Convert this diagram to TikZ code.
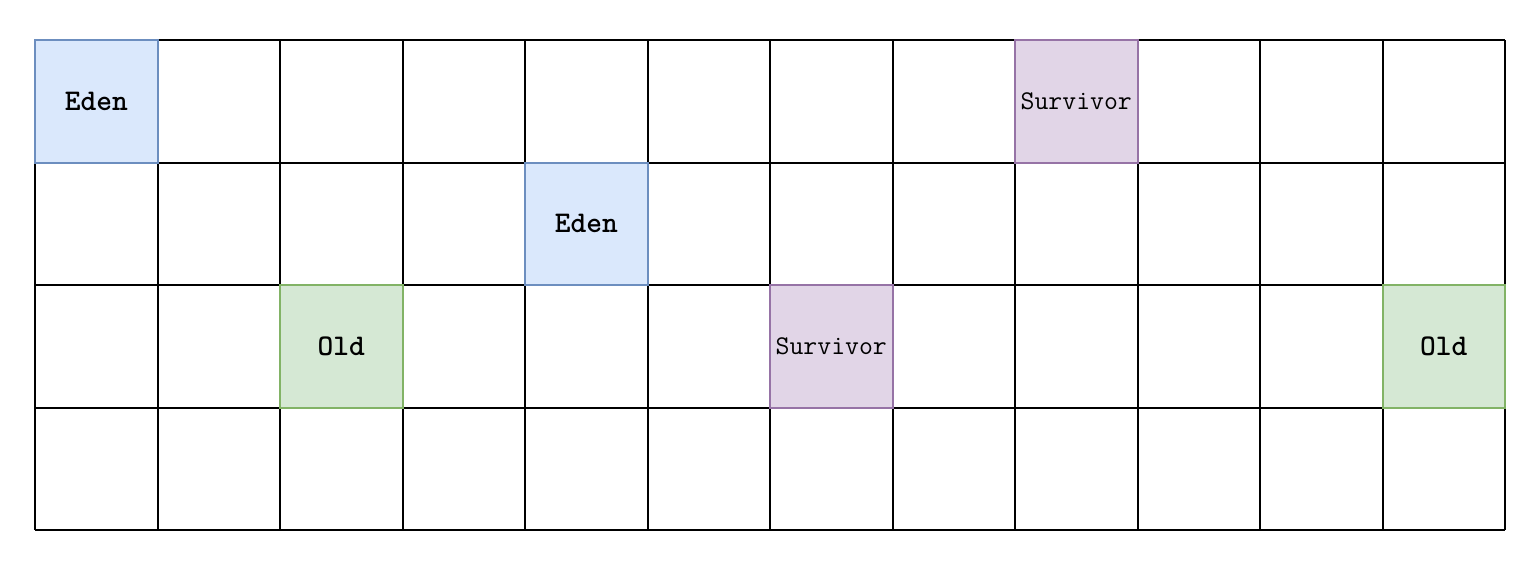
\documentclass[tikz,border=0pt]{standalone}
\definecolor{edenfill}{HTML}{DAE8FC}
\definecolor{edenline}{HTML}{6C8EBF}
\definecolor{survfill}{HTML}{E1D5E7}
\definecolor{survline}{HTML}{9673A6}
\definecolor{oldfill}{HTML}{D5E8D4}
\definecolor{oldline}{HTML}{82B366}
\begin{document}
\begin{tikzpicture}[x=61.25pt, y=-61.25pt,
    region/.style={draw, line width=1pt, minimum width=61.25pt, minimum height=61.25pt, inner sep=0pt,
      font=\ttfamily\bfseries\fontsize{15}{17}\selectfont},
    survregion/.style={region, fill=survfill, draw=survline,
      font=\ttfamily\fontsize{13.5}{15}\selectfont}]
        \useasboundingbox (-0.2857,-0.3265) rectangle (12.2857,4.2776);
        % Heap grid
        \foreach \i in {0,...,12} {
          \draw[line width=1pt] (\i,0) -- (\i,4);
        }
        \foreach \j in {0,...,4} {
          \draw[line width=1pt] (0,\j) -- (12,\j);
        }
        % Regions
        \node[region, fill=edenfill, draw=edenline] (eden1) at (0.5,0.5) {Eden};
        \node[region, fill=edenfill, draw=edenline] (eden2) at (4.5,1.5) {Eden};
        \node[survregion] (surv1) at (8.5,0.5) {Survivor};
        \node[survregion] (surv2) at (6.5,2.5) {Survivor};
        \node[region, fill=oldfill, draw=oldline] (old1) at (2.5,2.5) {Old};
        \node[region, fill=oldfill, draw=oldline] (old2) at (11.5,2.5) {Old};
\end{tikzpicture}
\end{document}
